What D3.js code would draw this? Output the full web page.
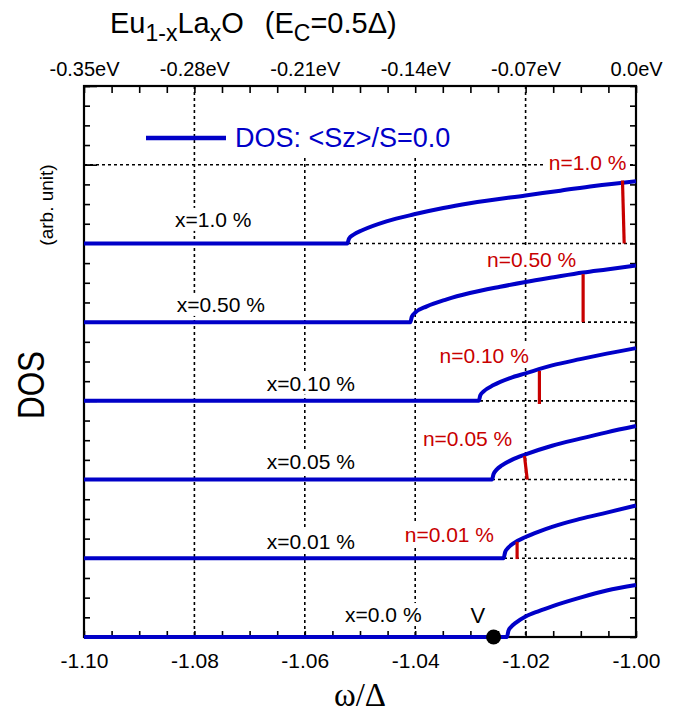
<!DOCTYPE html>
<html lang="en">
<head>
<meta charset="UTF-8">
<title>Eu1-xLaxO DOS</title>
<script src="https://cdn.jsdelivr.net/npm/d3@7"></script>
<style>
  body { margin: 0; background: #fff; }
  svg text { font-family: "Liberation Sans", Arial, sans-serif; }
</style>
</head>
<body>
<div id="chart"></div>
<script>
// omega/Delta ticks and the matching eV labels on the top axis
var omegaTicks = [-1.10, -1.08, -1.06, -1.04, -1.02, -1.00];
var eVLabels = ["-0.35eV", "-0.28eV", "-0.21eV", "-0.14eV", "-0.07eV", "0.0eV"];

// curves, stacked one per level (level 0 at the bottom); values are DOS above own baseline
var seriesNames = ["x=0.0 %", "x=0.01 %", "x=0.05 %", "x=0.10 %", "x=0.50 %", "x=1.0 %"];
var levels = [0, 1, 2, 3, 4, 5];

var dos_x000 = [[-1.10,0],[-1.0234,0],[-1.0231,0.08],[-1.0226,0.13],[-1.0218,0.18],[-1.0200,0.26],[-1.0176,0.33],[-1.0152,0.39],[-1.0101,0.50],[-1.0053,0.59],[-1.0000,0.66]];
var dos_x001 = [[-1.10,0],[-1.0240,0],[-1.0237,0.08],[-1.0232,0.13],[-1.0222,0.19],[-1.0200,0.27],[-1.0176,0.34],[-1.0152,0.40],[-1.0101,0.50],[-1.0053,0.58],[-1.0000,0.67]];
var dos_x005 = [[-1.10,0],[-1.0261,0],[-1.0258,0.07],[-1.0252,0.13],[-1.0243,0.18],[-1.0225,0.25],[-1.0200,0.32],[-1.0152,0.43],[-1.0101,0.52],[-1.0053,0.60],[-1.0000,0.68]];
var dos_x010 = [[-1.10,0],[-1.0285,0],[-1.0282,0.07],[-1.0276,0.12],[-1.0258,0.20],[-1.0228,0.29],[-1.0200,0.35],[-1.0152,0.45],[-1.0101,0.53],[-1.0053,0.60],[-1.0000,0.67]];
var dos_x050 = [[-1.10,0],[-1.0409,0],[-1.0406,0.07],[-1.0400,0.12],[-1.0379,0.20],[-1.0343,0.29],[-1.0301,0.37],[-1.0246,0.45],[-1.0200,0.51],[-1.0149,0.57],[-1.0096,0.63],[-1.0053,0.67],[-1.0000,0.72]];
var dos_x100 = [[-1.10,0],[-1.0523,0],[-1.0520,0.06],[-1.0512,0.11],[-1.0495,0.17],[-1.0452,0.28],[-1.0402,0.37],[-1.0349,0.45],[-1.0301,0.51],[-1.0200,0.61],[-1.0137,0.67],[-1.0076,0.73],[-1.0000,0.79]];
var allDos = [dos_x000, dos_x001, dos_x005, dos_x010, dos_x050, dos_x100];

// chemical potential markers (red): [omega top, dos top, omega bottom, dos bottom], level
var nNames = ["n=0.01 %", "n=0.05 %", "n=0.10 %", "n=0.50 %", "n=1.0 %"];
var nLevels = [1, 2, 3, 4, 5];
var nMarks = [
  [-1.02154, 0.21, -1.02154, -0.01],
  [-1.0202, 0.30, -1.0197, 0],
  [-1.0175, 0.38, -1.0175, -0.04],
  [-1.00958, 0.61, -1.00958, 0],
  [-1.00245, 0.80, -1.00214, 0]
];

// where the labels sit (omega of text start, dos above baseline)
var seriesLabelAt = [[-1.0527,0.19],[-1.0669,0.12],[-1.0669,0.13],[-1.0669,0.13],[-1.0832,0.13],[-1.0835,0.21]];
var nLabelAt = [[-1.0419,0.21],[-1.0386,0.43],[-1.0356,0.485],[-1.0270,0.705],[-1.0158,0.933]];

// V point (band edge)
var vPoint = [-1.0258, 0];

var width = 682, height = 716;
var margin = {top: 86, right: 46, bottom: 79, left: 84};

var svg = d3.select("#chart").append("svg")
    .attr("width", width)
    .attr("height", height);

var x = d3.scaleLinear().domain([-1.10, -1.00]).range([margin.left, width - margin.right]);
var y = d3.scaleLinear().domain([0, 7]).range([height - margin.bottom, margin.top]);

var blue = "#0000c8", red = "#c80000";

// grid (dotted)
var grid = svg.append("g")
    .attr("stroke", "#000")
    .attr("stroke-width", 1.6)
    .attr("stroke-dasharray", "3,3");
grid.selectAll(".vg").data(omegaTicks.slice(1, -1)).enter().append("line")
    .attr("x1", d => x(d)).attr("x2", d => x(d))
    .attr("y1", y(7)).attr("y2", y(0));
grid.selectAll(".hg").data([1, 2, 3, 4, 5, 6]).enter().append("line")
    .attr("x1", x(-1.10)).attr("x2", x(-1.00))
    .attr("y1", d => y(d)).attr("y2", d => y(d));

// labels with white boxes that hide the grid behind them
function boxedText(g, tx, ty, str, size, color) {
  var t = g.append("text")
      .attr("x", tx).attr("y", ty)
      .attr("font-size", size)
      .attr("fill", color)
      .text(str);
  var b = t.node().getBBox();
  g.insert("rect", "text")
      .attr("x", b.x - 3).attr("y", b.y)
      .attr("width", b.width + 6).attr("height", b.height)
      .attr("fill", "#fff");
}

seriesNames.forEach(function(s, i) {
  var g = svg.append("g");
  boxedText(g, x(seriesLabelAt[i][0]), y(levels[i] + seriesLabelAt[i][1]), s, 21, "#000");
});
nNames.forEach(function(s, i) {
  var g = svg.append("g");
  boxedText(g, x(nLabelAt[i][0]), y(nLevels[i] + nLabelAt[i][1]), s, 21, red);
});

// V label
var vg = svg.append("g");
boxedText(vg, x(-1.0300), y(0.18), "V", 22, "#000");

// legend
var leg = svg.append("g");
leg.append("rect")
    .attr("x", 229).attr("y", margin.top + 1)
    .attr("width", 228).attr("height", 70)
    .attr("fill", "#fff");
leg.append("line")
    .attr("x1", 146).attr("x2", 226)
    .attr("y1", 138).attr("y2", 138)
    .attr("stroke", blue).attr("stroke-width", 4.5);
leg.append("text")
    .attr("x", 235).attr("y", 147)
    .attr("font-size", 27)
    .attr("fill", blue)
    .text("DOS: <Sz>/S=0.0");

// axes: ticks pointing inward
var minorX = d3.range(0, 21).map(i => -1.10 + i * 0.005);
var minorY = d3.range(0, 29).map(i => i * 0.25);

svg.append("g")
    .attr("transform", "translate(0," + y(0) + ")")
    .call(d3.axisBottom(x).tickValues(minorX).tickSizeInner(-6).tickSizeOuter(0).tickFormat(""));
svg.append("g")
    .attr("transform", "translate(0," + y(7) + ")")
    .call(d3.axisTop(x).tickValues(minorX).tickSizeInner(-7).tickSizeOuter(0).tickFormat(""));
svg.append("g")
    .attr("transform", "translate(" + x(-1.10) + ",0)")
    .call(d3.axisLeft(y).tickValues(minorY).tickSizeInner(-6).tickSizeOuter(0).tickFormat(""));
svg.append("g")
    .attr("transform", "translate(" + x(-1.10) + ",0)")
    .call(d3.axisLeft(y).tickValues(d3.range(0, 8)).tickSizeInner(-13).tickSizeOuter(0).tickFormat(""));
svg.append("g")
    .attr("transform", "translate(" + x(-1.00) + ",0)")
    .call(d3.axisRight(y).tickValues(minorY).tickSizeInner(-6).tickSizeOuter(0).tickFormat(""));

// tick labels
var bottomLab = svg.append("g")
    .attr("transform", "translate(0," + y(0) + ")")
    .call(d3.axisBottom(x).tickValues(omegaTicks).tickSize(0).tickPadding(16)
        .tickFormat(d => d.toFixed(2)));
bottomLab.selectAll("text").attr("font-size", 21).attr("fill", "#000")
    .style("font-family", "'Liberation Sans', Arial, sans-serif");

var topLab = svg.append("g")
    .attr("transform", "translate(0," + y(7) + ")")
    .call(d3.axisTop(x).tickValues(omegaTicks).tickSize(0).tickPadding(10)
        .tickFormat((d, i) => eVLabels[i]));
topLab.selectAll("text").attr("font-size", 20).attr("fill", "#000")
    .style("font-family", "'Liberation Sans', Arial, sans-serif");

svg.selectAll(".domain").remove();
svg.selectAll(".tick line").attr("stroke", "#000").attr("stroke-width", 1.6);

// frame
svg.append("rect")
    .attr("x", x(-1.10)).attr("y", y(7))
    .attr("width", x(-1.00) - x(-1.10))
    .attr("height", y(0) - y(7))
    .attr("fill", "none")
    .attr("stroke", "#000")
    .attr("stroke-width", 2.2);

// DOS curves
var line = d3.line()
    .x(d => x(d[0]))
    .y(d => y(d[1]))
    .curve(d3.curveMonotoneX);

svg.append("g").selectAll("path")
    .data(allDos.map((s, i) => s.map(p => [p[0], p[1] + levels[i]])))
    .enter().append("path")
    .attr("d", line)
    .attr("fill", "none")
    .attr("stroke", blue)
    .attr("stroke-width", 4);

// red chemical potential marks
svg.append("g").selectAll("line")
    .data(nMarks.map((m, i) => [m[0], m[1] + nLevels[i], m[2], m[3] + nLevels[i]]))
    .enter().append("line")
    .attr("x1", d => x(d[0])).attr("y1", d => y(d[1]))
    .attr("x2", d => x(d[2])).attr("y2", d => y(d[3]))
    .attr("stroke", red)
    .attr("stroke-width", 3.2);

// black dot V
svg.append("circle")
    .attr("cx", x(vPoint[0])).attr("cy", y(vPoint[1]))
    .attr("r", 7.5)
    .attr("fill", "#000");

// title
var title = svg.append("text")
    .attr("x", 110).attr("y", 33)
    .attr("font-size", 29)
    .attr("fill", "#000");
title.append("tspan").text("Eu");
title.append("tspan").attr("dy", 8).attr("font-size", 23).text("1-x");
title.append("tspan").attr("dy", -8).text("La");
title.append("tspan").attr("dy", 8).attr("font-size", 23).text("x");
title.append("tspan").attr("dy", -8).text("O");
title.append("tspan").attr("dx", 21).text("(E");
title.append("tspan").attr("dy", 8).attr("font-size", 23).text("C");
title.append("tspan").attr("dy", -8).text("=0.5\u0394)");

// axis titles
svg.append("text")
    .attr("x", (x(-1.10) + x(-1.00)) / 2).attr("y", 706)
    .attr("text-anchor", "middle")
    .attr("font-size", 33)
    .style("font-family", "'Liberation Serif', 'Times New Roman', serif")
    .text("\u03c9/\u0394");

svg.append("text")
    .attr("transform", "translate(44,385) rotate(-90)")
    .attr("text-anchor", "middle")
    .attr("font-size", 36)
    .attr("textLength", 68)
    .attr("lengthAdjust", "spacingAndGlyphs")
    .text("DOS");

svg.append("text")
    .attr("transform", "translate(53,205) rotate(-90)")
    .attr("text-anchor", "middle")
    .attr("font-size", 19)
    .text("(arb. unit)");
</script>
</body>
</html>
